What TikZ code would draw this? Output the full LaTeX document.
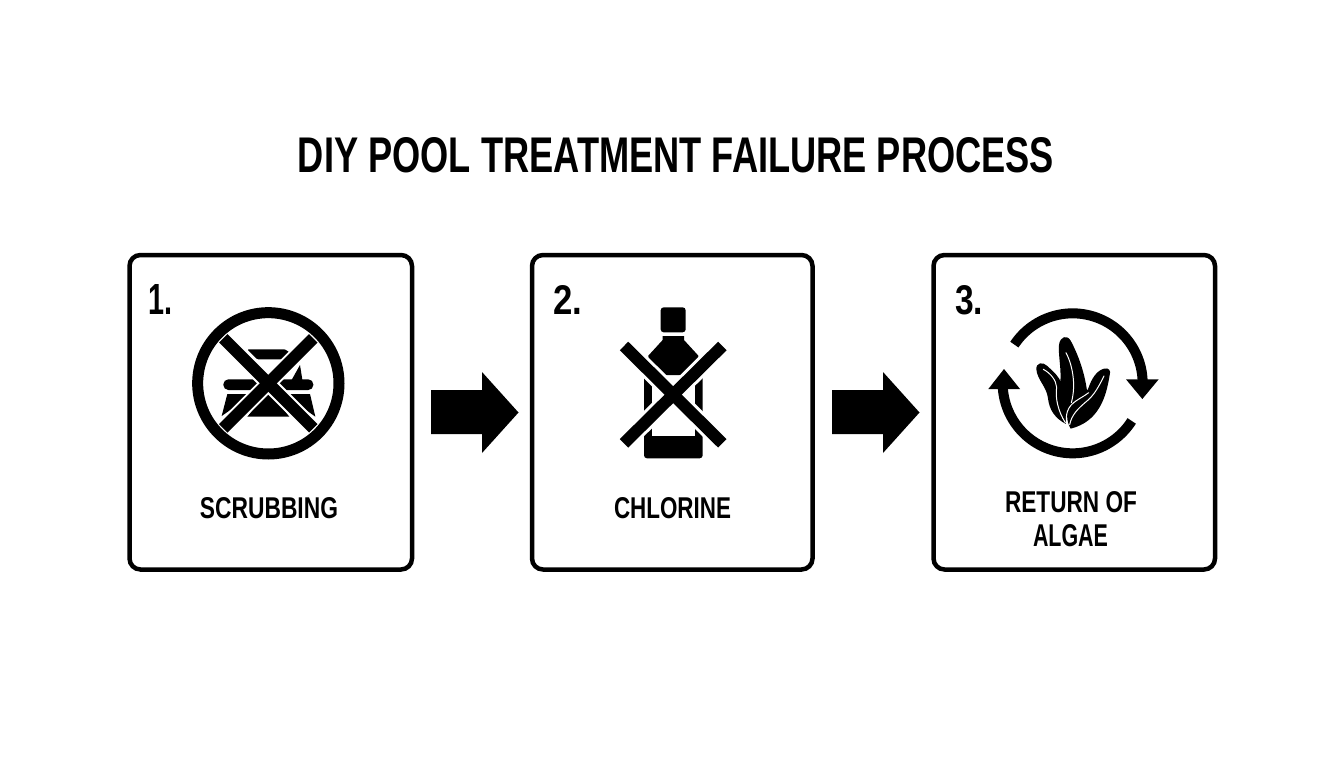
\documentclass[tikz,border=0pt]{standalone}
\usepackage{fontspec}
\usepackage{graphicx}
\setmainfont{Liberation Sans}
\newcommand{\fittext}[3]{\resizebox{#1pt}{#2pt}{\bfseries #3}}
\tikzset{
  panel/.style={draw=black,fill=white,line width=4.5pt,rounded corners=11pt,minimum height=314.5pt,inner sep=0pt},
  label/.style={inner sep=0pt,text=black},
  blockarrow/.style={fill=black,draw=none},
  cross/.style={line width=12pt,draw=black},
  halo/.style={line width=18pt,draw=white},
  thinhalo/.style={line width=16pt,draw=white},
  ink/.style={fill=black,draw=none},
  vein/.style={draw=white,line width=1pt,line cap=round}
}
\begin{document}
\begin{tikzpicture}[x=1pt,y=-1pt]
\useasboundingbox (0,0) rectangle (1344,768);
\fill[white] (0,0) rectangle (1344,768);

\node[label] (title) at (676,155) {\fittext{756}{35}{DIY POOL TREATMENT FAILURE PROCESS}};

\node[panel,minimum width=282.5pt] (p1) at (270.75,412.25) {};
\node[panel,minimum width=280.5pt] (p2) at (672.25,412.25) {};
\node[panel,minimum width=281.5pt] (p3) at (1074.25,412.25) {};

\node[label] (n1) at (160,299) {\fittext{24}{30}{1.}};
\node[label] (n2) at (567.5,300) {\fittext{29}{29}{2.}};
\node[label] (n3) at (969,300) {\fittext{28}{29}{3.}};

\node[label] (l1) at (269,508.5) {\fittext{138}{21}{SCRUBBING}};
\node[label] (l2) at (672.5,508.5) {\fittext{117}{21}{CHLORINE}};
\node[label] (l3a) at (1071,502) {\fittext{132}{21}{RETURN OF}};
\node[label] (l3b) at (1070.5,535.5) {\fittext{75}{22}{ALGAE}};

% block arrows
\fill[blockarrow] (431,390) -- (482,390) -- (482,372) -- (518.5,412.5) -- (482,453) -- (482,434) -- (431,434) -- cycle;
\fill[blockarrow] (832,390) -- (883,390) -- (883,372) -- (919.5,412.5) -- (883,453) -- (883,434) -- (832,434) -- cycle;

% icon 1: crossed-out scrubber
\begin{scope}[shift={(170,290)},scale=1/3]
  \fill[ink,rounded corners=1pt] (232,178) -- (345,178) -- (360,188) -- (360,208) -- (262,208) -- cycle;
  \fill[ink,rounded corners=5pt] (160,268) rectangle (430,300);
  \fill[ink] (362,275) -- (390,225) -- (398,275) -- cycle;
  \fill[ink] (172,312) -- (250,312) -- (155,378) -- cycle;
  \fill[ink] (340,312) -- (420,312) -- (436,380) -- cycle;
  \fill[ink] (232,380) -- (358,380) -- (295,300) -- cycle;
  \draw[thinhalo] (160,145) -- (430,415);
  \draw[thinhalo] (430,145) -- (160,415);
  \draw[cross] (160,145) -- (430,415);
  \draw[cross] (430,145) -- (160,415);
  \draw[draw=black,line width=11pt] (295,280) circle[radius=212];
\end{scope}

% icon 2: crossed-out bottle
\begin{scope}[shift={(590,290)},scale=1/3]
  \fill[ink,rounded corners=3pt] (212,52) rectangle (287,127);
  \fill[ink,rounded corners=3pt] (162,240) rectangle (338,505);
  \fill[white] (185,230) rectangle (316,438);
  \fill[white] (150,230) rectangle (350,240);
  \fill[ink] (218,138) -- (282,138) -- (282,150) -- (325,197) -- (325,255) -- (175,255) -- (175,197) -- (218,150) -- cycle;
  \draw[halo] (102,168) -- (397,460);
  \draw[halo] (397,168) -- (102,460);
  \draw[cross] (102,168) -- (397,460);
  \draw[cross] (397,168) -- (102,460);
\end{scope}

% icon 3: cycle arrows
\begin{scope}[shift={(970,290)},scale=1/3]
  \draw[draw=black,line width=10pt] plot[domain=213.6:368,samples=60] ({308+210*cos(\x)},{280+210*sin(\x)});
  \fill[ink] (468,268) -- (566,268) -- (517,327) -- cycle;
  \draw[draw=black,line width=10pt] plot[domain=32.5:178,samples=60] ({308+210*cos(\x)},{280+210*sin(\x)});
  \fill[ink] (55,297) -- (150,297) -- (102,237) -- cycle;
\end{scope}

% icon 3: algae
\begin{scope}[shift={(1030,330)},scale=1/3]
  % left leaf
  \fill[ink] (108,282) .. controls (75,265) and (58,240) .. (54,205)
     .. controls (50,170) and (22,150) .. (19,118)
     .. controls (18,98) and (38,94) .. (52,108)
     .. controls (70,125) and (88,140) .. (94,160)
     -- (108,240) -- cycle;
  % centre leaf
  \fill[ink] (107,270) .. controls (88,240) and (80,200) .. (90,160)
     .. controls (96,125) and (84,75) .. (87,45)
     .. controls (90,18) and (112,14) .. (122,32)
     .. controls (145,75) and (165,130) .. (172,190)
     -- (125,240) -- cycle;
  % right leaf
  \fill[ink] (122,296) .. controls (110,275) and (105,245) .. (125,220)
     .. controls (145,205) and (168,195) .. (175,175)
     .. controls (185,145) and (200,122) .. (222,116)
     .. controls (236,112) and (244,122) .. (239,135)
     .. controls (228,205) and (205,275) .. (122,296) -- cycle;
  % veins
  \draw[vein] (40,118) .. controls (62,130) and (78,150) .. (80,172) .. controls (75,205) and (85,245) .. (106,278);
  \draw[vein] (108,68) .. controls (125,100) and (140,160) .. (124,218);
  \draw[vein] (176,188) .. controls (150,208) and (122,215) .. (112,245) .. controls (108,258) and (108,272) .. (110,286);
  \draw[vein] (222,138) .. controls (208,165) and (195,195) .. (165,218) .. controls (142,238) and (125,255) .. (119,284);
\end{scope}
\end{tikzpicture}
\end{document}
